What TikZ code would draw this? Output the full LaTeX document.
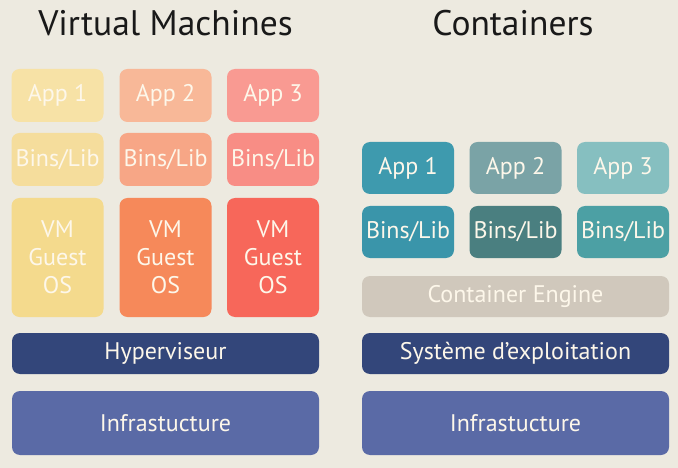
\documentclass[tikz,border=0pt]{standalone}
\usepackage{fontspec}
\setmainfont{PT Sans}
\definecolor{bgcol}{HTML}{EDEAE0}
\definecolor{txtcol}{HTML}{FDF7EA}
\definecolor{yelA}{HTML}{F7E2A6}
\definecolor{yelB}{HTML}{F5DD9C}
\definecolor{yelC}{HTML}{F4DA8D}
\definecolor{orgA}{HTML}{F8B898}
\definecolor{orgB}{HTML}{F7A686}
\definecolor{orgC}{HTML}{F6895A}
\definecolor{redA}{HTML}{F99A92}
\definecolor{redB}{HTML}{F88D85}
\definecolor{redC}{HTML}{F7675A}
\definecolor{tealA}{HTML}{3E9AAE}
\definecolor{tealB}{HTML}{7AA3A6}
\definecolor{tealC}{HTML}{86BFC0}
\definecolor{tealD}{HTML}{3A95AA}
\definecolor{tealE}{HTML}{4A7F80}
\definecolor{tealF}{HTML}{4CA0A4}
\definecolor{engine}{HTML}{D0C8BC}
\definecolor{navy}{HTML}{33467A}
\definecolor{infra}{HTML}{5A6AA6}
\begin{document}
\begin{tikzpicture}[x=1pt,y=-1pt,
    box/.style={rounded corners=8pt, inner sep=0pt, text=txtcol, font=\fontsize{24}{28}\selectfont, align=center},
    cell/.style={box, minimum width=92pt, minimum height=53pt},
    wide/.style={box, minimum width=307pt, minimum height=41pt},
    title/.style={font=\fontsize{35.5}{40}\selectfont, text=black!90}]
    % Background
    \fill[bgcol] (0,0) rectangle (678,468);
    \useasboundingbox (0,0) rectangle (678,468);

    % Titles
    \node[title] (vmtitle) at (165.5,23) {Virtual Machines};
    \node[title] (cttitle) at (513,23) {Containers};

    % Virtual machines side
    \node[cell, fill=yelA] (vmapp1) at (57.5,95.5) {App 1};
    \node[cell, fill=orgA] (vmapp2) at (165.5,95.5) {App 2};
    \node[cell, fill=redA] (vmapp3) at (273,95.5) {App 3};
    \node[cell, fill=yelB] (vmbin1) at (57.5,159.5) {Bins/Lib};
    \node[cell, fill=orgB] (vmbin2) at (165.5,159.5) {Bins/Lib};
    \node[cell, fill=redB] (vmbin3) at (273,159.5) {Bins/Lib};
    \node[cell, fill=yelC, minimum height=119pt] (guest1) at (57.5,257.5) {VM\\Guest\\OS};
    \node[cell, fill=orgC, minimum height=119pt] (guest2) at (165.5,257.5) {VM\\Guest\\OS};
    \node[cell, fill=redC, minimum height=119pt] (guest3) at (273,257.5) {VM\\Guest\\OS};
    \node[wide, fill=navy] (hyper) at (165.5,353.5) {Hyperviseur};
    \node[wide, fill=infra, minimum height=64pt] (vminfra) at (165.5,423) {Infrastucture};

    % Containers side
    \node[cell, fill=tealA, minimum height=52pt] (ctapp1) at (408,168) {App 1};
    \node[cell, fill=tealB, minimum height=52pt] (ctapp2) at (515.5,168) {App 2};
    \node[cell, fill=tealC, minimum height=52pt] (ctapp3) at (623,168) {App 3};
    \node[cell, fill=tealD, minimum height=52pt] (ctbin1) at (408,232) {Bins/Lib};
    \node[cell, fill=tealE, minimum height=52pt] (ctbin2) at (515.5,232) {Bins/Lib};
    \node[cell, fill=tealF, minimum height=52pt] (ctbin3) at (623,232) {Bins/Lib};
    \node[wide, fill=engine] (engine) at (515.5,296.5) {Container Engine};
    \node[wide, fill=navy] (os) at (515.5,353.5) {Système d’exploitation};
    \node[wide, fill=infra, minimum height=64pt] (ctinfra) at (515.5,423) {Infrastucture};
\end{tikzpicture}
\end{document}
